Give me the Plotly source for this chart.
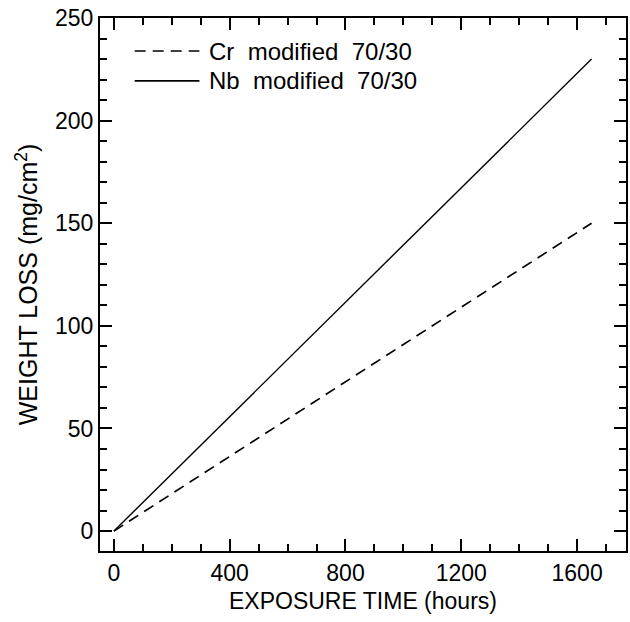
import plotly.graph_objects as go

# Data
hours = [0, 1650]
cr_loss = [0, 150]
nb_loss = [0, 230]

series_names = ["Cr&nbsp; modified&nbsp; 70/30", "Nb&nbsp; modified&nbsp; 70/30"]

x_ticks = [0, 400, 800, 1200, 1600]
y_ticks = [0, 50, 100, 150, 200, 250]

FONT = "Liberation Sans"
fig = go.Figure()

fig.add_trace(go.Scatter(x=hours, y=cr_loss, mode="lines", name="Cr modified 70/30",
                         line=dict(color="black", width=1.7, dash="11px,7px"),
                         showlegend=False))
fig.add_trace(go.Scatter(x=hours, y=nb_loss, mode="lines", name="Nb modified 70/30",
                         line=dict(color="black", width=1.4),
                         showlegend=False))

# legend drawn as key lines + text
legend_rows = [(0.938, "11px,7px"), (0.882, "solid")]
for (yy, dash), name in zip(legend_rows, series_names):
    fig.add_shape(type="line", xref="paper", yref="paper", x0=0.066, x1=0.189, y0=yy, y1=yy,
                  line=dict(color="black", width=1.6, dash=dash))
    fig.add_annotation(xref="paper", yref="paper", x=0.204, y=yy, text=name, showarrow=False,
                       xanchor="left", yanchor="middle", font=dict(family=FONT, size=24, color="black"))

axis_common = dict(showgrid=False, zeroline=False, showline=True, linecolor="black", linewidth=2,
                   mirror="ticks", ticks="inside", tickcolor="black", tickwidth=1.5, ticklen=12,
                   tickfont=dict(family=FONT, size=23, color="black"))

fig.update_xaxes(range=[-48, 1769], tickvals=x_ticks,
                 minor=dict(ticks="inside", dtick=100, tick0=0, ticklen=7, tickwidth=1.5, tickcolor="black"),
                 title=dict(text="EXPOSURE TIME (hours)", font=dict(family=FONT, size=23, color="black"), standoff=8),
                 **axis_common)
fig.update_yaxes(range=[-9.7, 250], tickvals=y_ticks,
                 minor=dict(ticks="inside", dtick=10, tick0=0, ticklen=7, tickwidth=1.5, tickcolor="black"),
                 title=dict(text="WEIGHT LOSS (mg/cm<sup>2</sup>)", font=dict(family=FONT, size=25, color="black"), standoff=10),
                 **axis_common)

fig.update_layout(width=630, height=622, margin=dict(l=100, r=2, t=18, b=71),
                  plot_bgcolor="white", paper_bgcolor="white", showlegend=False)

fig.write_html("out.html")
